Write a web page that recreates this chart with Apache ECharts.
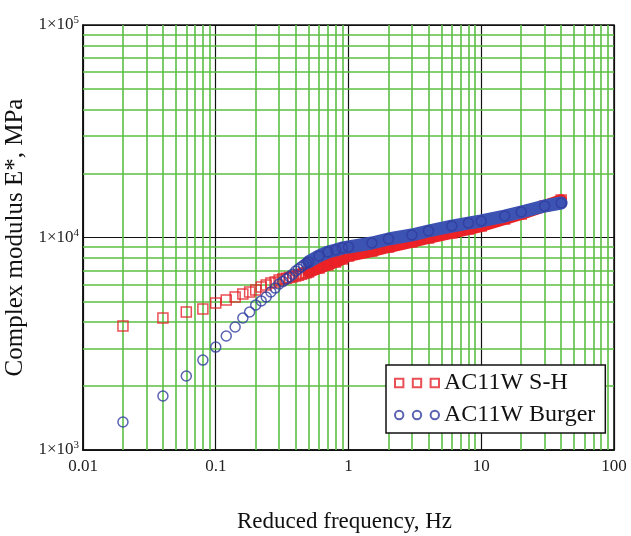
<!DOCTYPE html>
<html>
<head>
<meta charset="utf-8">
<script src="https://cdn.jsdelivr.net/npm/echarts@6/dist/echarts.min.js"></script>
<style>
  html, body { margin: 0; padding: 0; background: #fff; }
  #main { width: 631px; height: 536px; }
</style>
</head>
<body>
<div id="main"></div>
<script>
// reduced frequency (Hz) and complex modulus (MPa)
const freqSH = [0.02, 0.04, 0.06, 0.08, 0.1, 0.12, 0.14, 0.16, 0.18, 0.2, 0.22, 0.24, 0.26, 0.28, 0.3,
  0.32, 0.34, 0.36, 0.38, 0.4, 0.42, 0.44, 0.46, 0.48, 0.5, 0.6, 0.7, 0.8, 0.9, 1, 1.5, 2, 3, 4, 6, 8, 10, 15, 20, 30, 40]
const modSH = [3830, 4180, 4460, 4610, 4920, 5080, 5250, 5420, 5540, 5660, 5850, 5970, 6100, 6180, 6310,
  6370, 6430, 6480, 6540, 6590, 6650, 6710, 6770, 6820, 6880, 7180, 7430, 7670, 7920, 8190, 8630, 9020, 9530, 9950, 10500, 10960, 11320, 12220, 12900, 14070, 15000]

const freqBurger = [0.02, 0.04, 0.06, 0.08, 0.1, 0.12, 0.14, 0.16, 0.18, 0.2, 0.22, 0.24, 0.26, 0.28, 0.3,
  0.32, 0.34, 0.36, 0.38, 0.4, 0.42, 0.44, 0.46, 0.48, 0.5, 0.6, 0.7, 0.8, 0.9, 1, 1.5, 2, 3, 4, 6, 8, 10, 15, 20, 30, 40]
const modBurger = [1355, 1795, 2230, 2650, 3050, 3440, 3790, 4180, 4460, 4810, 5030, 5250, 5540, 5780, 6040,
  6200, 6370, 6540, 6720, 6960, 7110, 7270, 7420, 7550, 7670, 8190, 8550, 8730, 8930, 9020, 9420, 9840, 10280, 10730, 11320, 11690, 11960, 12620, 13180, 14070, 14530]

const seriesNames = ['AC11W S-H', 'AC11W Burger']
const xTickVals = [0.01, 0.1, 1, 10, 100]
const xTickLabels = ['0.01', '0.1', '1', '10', '100']
const yTickVals = [1000, 10000, 100000]
const yTickExp = ['3', '4', '5']
const minorMult = [2, 3, 4, 5, 6, 7, 8, 9]
const xDecades = [0.01, 0.1, 1, 10]
const yDecades = [1000, 10000]

const serif = '"Liberation Serif", "DejaVu Serif", serif'
const red = '#e3232b'
const blue = '#2f3c9e'

// from here on the markers overlap into a solid band
const bandFrom = 0.5
function pairs(xs, ys) {
  return xs.map((x, i) => [x, ys[i]])
}
function band(xs, ys) {
  return pairs(xs, ys).filter(p => p[0] >= bandFrom)
}
function nearest(vals, v) {
  let best = 0
  vals.forEach((t, i) => {
    if (Math.abs(Math.log10(t) - Math.log10(v)) < Math.abs(Math.log10(vals[best]) - Math.log10(v))) best = i
  })
  return best
}

const minorX = []
xDecades.forEach(d => minorMult.forEach(m => minorX.push({ xAxis: +(d * m).toPrecision(3) })))
const minorY = []
yDecades.forEach(d => minorMult.forEach(m => minorY.push({ yAxis: d * m })))

const squares3 = 'path://M1,1H9V9H1ZM18,1H26V9H18ZM35,1H43V9H35Z'
const circles3 = 'path://M1,5A4,4 0 1 1 9,5A4,4 0 1 1 1,5ZM18,5A4,4 0 1 1 26,5A4,4 0 1 1 18,5ZM35,5A4,4 0 1 1 43,5A4,4 0 1 1 35,5Z'

const chart = echarts.init(document.getElementById('main'))
chart.setOption({
  animation: false,
  backgroundColor: '#fff',
  grid: {
    left: 83,
    right: 17,
    top: 25,
    bottom: 86,
    containLabel: false,
    outerBoundsMode: 'none',
    show: true,
    borderColor: '#111',
    borderWidth: 1.5,
  },
  legend: {
    data: [
      { name: seriesNames[0], icon: squares3 },
      { name: seriesNames[1], icon: circles3 },
    ],
    orient: 'vertical',
    left: 386,
    top: 365,
    itemWidth: 44,
    itemHeight: 10,
    itemGap: 8,
    padding: [6, 10, 6, 8],
    backgroundColor: '#fff',
    borderColor: '#111',
    borderWidth: 1.5,
    textStyle: { fontFamily: serif, fontSize: 24, color: '#111' },
  },
  xAxis: {
    type: 'log',
    logBase: 10,
    min: 0.01,
    max: 100,
    name: 'Reduced frequency, Hz',
    nameLocation: 'middle',
    nameGap: 60,
    nameTextStyle: { fontFamily: serif, fontSize: 23, color: '#111', padding: [0, 8, 0, 0] },
    axisLine: { lineStyle: { color: '#111', width: 1.5 } },
    axisTick: { show: false },
    axisLabel: {
      margin: 8,
      fontFamily: serif,
      fontSize: 17,
      color: '#222',
      formatter: v => xTickLabels[nearest(xTickVals, v)],
    },
    splitLine: { show: true, lineStyle: { color: '#111', width: 1.2 } },
  },
  yAxis: {
    type: 'log',
    logBase: 10,
    min: 1000,
    max: 100000,
    name: 'Complex modulus E*, MPa',
    nameLocation: 'middle',
    nameGap: 51,
    nameTextStyle: { fontFamily: serif, fontSize: 25, color: '#111' },
    axisLine: { lineStyle: { color: '#111', width: 1.5 } },
    axisTick: { show: false },
    axisLabel: {
      margin: 4,
      formatter: v => '{m|1×10}{s|' + yTickExp[nearest(yTickVals, v)] + '}',
      rich: {
        m: { fontFamily: serif, fontSize: 17, color: '#222', lineHeight: 20 },
        s: { fontFamily: serif, fontSize: 11, color: '#222', verticalAlign: 'top', lineHeight: 11 },
      },
    },
    splitLine: { show: true, lineStyle: { color: '#111', width: 1.2 } },
  },
  series: [
    {
      name: 'minor grid',
      type: 'line',
      data: [],
      silent: true,
      markLine: {
        z: 1,
        silent: true,
        symbol: ['none', 'none'],
        label: { show: false },
        lineStyle: { color: '#5cbf45', width: 1.6, type: 'solid' },
        emphasis: { disabled: true },
        data: minorX.concat(minorY),
      },
    },
    {
      name: seriesNames[0] + ' band',
      type: 'line',
      data: band(freqSH, modSH),
      symbol: 'none',
      z: 2,
      silent: true,
      lineStyle: { color: '#ee2124', width: 12, cap: 'round', join: 'round' },
    },
    {
      name: seriesNames[0],
      type: 'scatter',
      data: pairs(freqSH, modSH),
      symbol: 'rect',
      symbolSize: 10,
      z: 3,
      itemStyle: { color: 'transparent', borderColor: red, borderWidth: 1.5 },
    },
    {
      name: seriesNames[1] + ' band',
      type: 'line',
      data: band(freqBurger, modBurger),
      symbol: 'none',
      z: 4,
      silent: true,
      lineStyle: { color: '#3c53b3', width: 13, cap: 'round', join: 'round' },
    },
    {
      name: seriesNames[1],
      type: 'scatter',
      data: pairs(freqBurger, modBurger),
      symbol: 'circle',
      symbolSize: 10,
      z: 5,
      itemStyle: { color: 'transparent', borderColor: blue, borderWidth: 1.5 },
    },
  ],
})
</script>
</body>
</html>
